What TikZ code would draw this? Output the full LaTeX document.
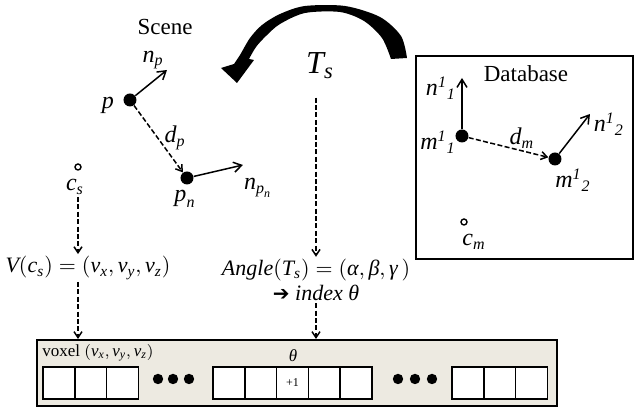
\documentclass[tikz,border=0pt]{standalone}
\usepackage{amsmath}
\usepackage{fontspec}
\setmainfont{Liberation Serif}
\newfontfamily\dejavu{DejaVu Sans}
\usetikzlibrary{arrows.meta, positioning, calc}
\definecolor{voxfill}{RGB}{237,234,225}
\newcommand{\itv}[1]{\textit{#1}}

\begin{document}
\begin{tikzpicture}[
  x=0.5pt, y=-0.5pt,
  title/.style = {font=\fontsize{11.5}{13}\selectfont, inner sep=1pt},
  lbl/.style   = {font=\fontsize{12}{14}\selectfont, inner sep=1pt},
  big/.style   = {font=\fontsize{16}{18}\selectfont, inner sep=1pt},
  eq/.style    = {font=\fontsize{11}{12.5}\selectfont, inner sep=1pt},
  vlbl/.style  = {font=\fontsize{8.5}{10}\selectfont, inner sep=1pt},
  dot/.style   = {circle, fill=black, inner sep=0pt, minimum size=6.5pt},
  ring/.style  = {circle, draw, line width=0.7pt, inner sep=0pt, minimum size=3pt},
  nrm/.style   = {-{Straight Barb[length=4pt,width=5pt]}, line width=0.75pt},
  dsh/.style   = {dash pattern=on 2.5pt off 1.2pt, line width=0.75pt,
                  -{Straight Barb[length=3pt,width=4pt]}},
  cell/.style  = {draw, fill=white, line width=0.8pt, inner sep=0pt,
                  minimum width=15.9pt, minimum height=16pt},
  vbox/.style  = {draw, fill=voxfill, line width=0.9pt, inner sep=0pt}
]
\useasboundingbox (0,0) rectangle (634,410);

% --- scene side ---
\node[title] (scene) at (165,27) {Scene};
\node[dot] (p)  at (130,100) {};
\node[dot] (pn) at (187,178) {};
\coordinate (npend)  at (167,70);
\coordinate (npnend) at (243,165);
\draw[nrm] (p)  -- (npend);
\draw[nrm] (pn) -- (npnend);
\draw[dsh] (p)  -- (pn);
\node[lbl] (plbl)   at (108,105) {$\itv{p}$};
\node[lbl] (nplbl)  at (153,60)  {$\itv{n}_{\itv{p}}$};
\node[lbl] (dplbl)  at (175,138) {$\itv{d}_{\itv{p}}$};
\node[lbl] (pnlbl)  at (185,199) {$\itv{p}_{\itv{n}}$};
\node[lbl] (npnlbl) at (258,188) {$\itv{n}_{\itv{p}_{\itv{n}}}$};

\node[ring] (cs)    at (78,167) {};
\node[lbl]  (cslbl) at (75,187) {$\itv{c}_{\itv{s}}$};
\node[eq]   (vcs)   at (88,268)
  {$\itv{V}(\itv{c}_{\itv{s}}) = (\itv{v}_{\itv{x}},\itv{v}_{\itv{y}},\itv{v}_{\itv{z}})$};

% --- transform ---
\node[big] (ts) at (320,66) {$\itv{T}_{\itv{s}}$};
\node[eq, align=center] (ang) at (316,280)
  {$\itv{Angle}(\itv{T}_{\itv{s}}) = (\itv{α}, \itv{β}, \itv{γ}\,)$\\
   {\dejavu\fontsize{10}{12}\selectfont ➔} \itv{index θ}};
\fill plot[smooth, tension=0.5] coordinates {(407,58) (401,36) (380,17) (345,6) (305,6)
    (280,14) (262,25) (250,38) (240,55) (234,64)}
  -- (221,68) -- (237,83) -- (254,60)
  -- plot[smooth, tension=0.5] coordinates {(249,59) (256,47) (266,36) (280,24) (305,13)
    (340,12) (364,21) (382,38) (391,59)} -- cycle;

% --- database ---
\node[draw, line width=0.9pt, anchor=north west, inner sep=0pt,
      minimum width=108.5pt, minimum height=101.5pt] (db) at (415,55) {};
\node[title] (dbtitle) at (526,74) {Database};
\node[dot] (m11) at (462,136) {};
\node[dot] (m12) at (555,159) {};
\coordinate (n11end) at (462,78);
\coordinate (n12end) at (590,114);
\draw[nrm] (m11) -- (n11end);
\draw[nrm] (m12) -- (n12end);
\draw[dsh] (m11) -- (m12);
\node[lbl] (n11lbl) at (441,88)  {$\itv{n}^{\itv{1}}{}_{\itv{1}}$};
\node[lbl] (m11lbl) at (438,142) {$\itv{m}^{\itv{1}}{}_{\itv{1}}$};
\node[lbl] (dmlbl)  at (522,138) {$\itv{d}_{\itv{m}}$};
\node[lbl] (m12lbl) at (573,180) {$\itv{m}^{\itv{1}}{}_{\itv{2}}$};
\node[lbl] (n12lbl) at (609,124) {$\itv{n}^{\itv{1}}{}_{\itv{2}}$};
\node[ring] (cm)    at (464,222) {};
\node[lbl]  (cmlbl) at (474,242) {$\itv{c}_{\itv{m}}$};

% --- voxel table ---
\node[vbox, anchor=north west, minimum width=260pt, minimum height=33pt] (voxel) at (36,339) {};
\node[vlbl, anchor=west] (voxlbl) at (40,353)
  {voxel $(\itv{v}_{\itv{x}},\itv{v}_{\itv{y}},\itv{v}_{\itv{z}})$};
\node[vlbl] (thlbl) at (293,356) {\itv{θ}};
\foreach \cx [count=\i] in {58.9,90.7,122.5,228.9,260.7,292.5,324.3,356.1,467.9,499.7,531.5}
  \node[cell] (cell\i) at (\cx,383) {};
\node[font=\fontsize{6}{7}\selectfont] (plus) at (cell6) {+1};
\foreach \dx in {158,173,189,398,415,432}
  \fill (\dx,379) circle (2.6pt);

% --- dashed links ---
\draw[dsh] (cs |- cslbl.south) -- (cs |- vcs.north);
\draw[dsh] (cs |- vcs.south) -- (cs |- voxel.north);
\draw[dsh, shorten <=8pt] (ang.north |- ts.south) -- (ang.north);
\draw[dsh] (ang.south) -- (ang.south |- voxel.north);
\end{tikzpicture}
\end{document}
